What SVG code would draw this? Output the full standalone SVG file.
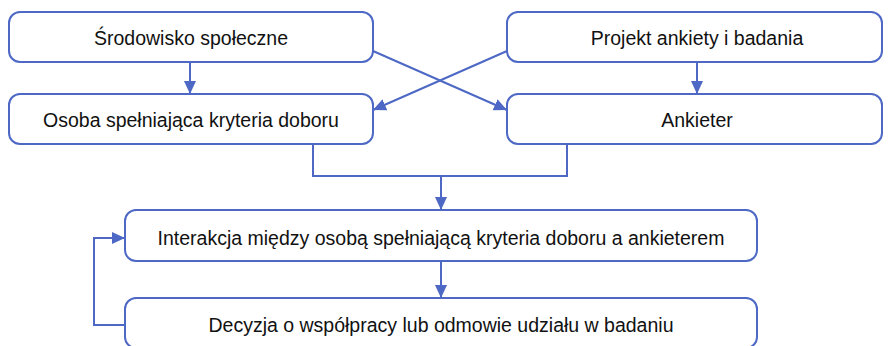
<svg xmlns="http://www.w3.org/2000/svg" width="893" height="346" viewBox="0 0 893 346">
<style>
.box{fill:#fff;stroke:#4d68c5;stroke-width:2}
.lbl{font-family:"Liberation Sans",Arial,sans-serif;font-size:19.5px;fill:#111;text-anchor:middle}
.con{fill:none;stroke:#4d68c5;stroke-width:2}
</style>
<defs>
<marker id="ah" markerUnits="userSpaceOnUse" markerWidth="14" markerHeight="12" refX="13" refY="6" orient="auto">
<path d="M0,0 L13,6 L0,12 Z" fill="#4d68c5"/>
</marker>
</defs>
<rect width="893" height="346" fill="#fff"/>
<g id="connectors">
<line class="con" x1="190" y1="62" x2="190" y2="94" marker-end="url(#ah)"/>
<line class="con" x1="697" y1="62" x2="697" y2="94" marker-end="url(#ah)"/>
<line class="con" x1="373" y1="51" x2="507" y2="110" marker-end="url(#ah)"/>
<line class="con" x1="507" y1="51" x2="373" y2="110" marker-end="url(#ah)"/>
<polyline class="con" points="313,144 313,176 567,176 567,144"/>
<line class="con" x1="441" y1="176" x2="441" y2="210" marker-end="url(#ah)"/>
<line class="con" x1="441" y1="261" x2="441" y2="298" marker-end="url(#ah)"/>
<polyline class="con" points="125,325 94,325 94,238 125,238" marker-end="url(#ah)"/>
</g>
<g id="srodowisko">
<rect class="box" x="9" y="12" width="364" height="50" rx="11"/>
<text class="lbl" x="191" y="45">Środowisko społeczne</text>
</g>
<g id="projekt">
<rect class="box" x="507" y="12" width="375" height="50" rx="11"/>
<text class="lbl" x="697" y="45">Projekt ankiety i badania</text>
</g>
<g id="osoba">
<rect class="box" x="9" y="94" width="364" height="50" rx="11"/>
<text class="lbl" x="191" y="127">Osoba spełniająca kryteria doboru</text>
</g>
<g id="ankieter">
<rect class="box" x="507" y="94" width="375" height="50" rx="11"/>
<text class="lbl" x="697" y="127">Ankieter</text>
</g>
<g id="interakcja">
<rect class="box" x="125" y="210" width="632" height="51" rx="11"/>
<text class="lbl" x="441" y="245">Interakcja między osobą spełniającą kryteria doboru a ankieterem</text>
</g>
<g id="decyzja">
<rect class="box" x="125" y="298" width="632" height="50" rx="11"/>
<text class="lbl" x="441" y="332">Decyzja o współpracy lub odmowie udziału w badaniu</text>
</g>
</svg>
